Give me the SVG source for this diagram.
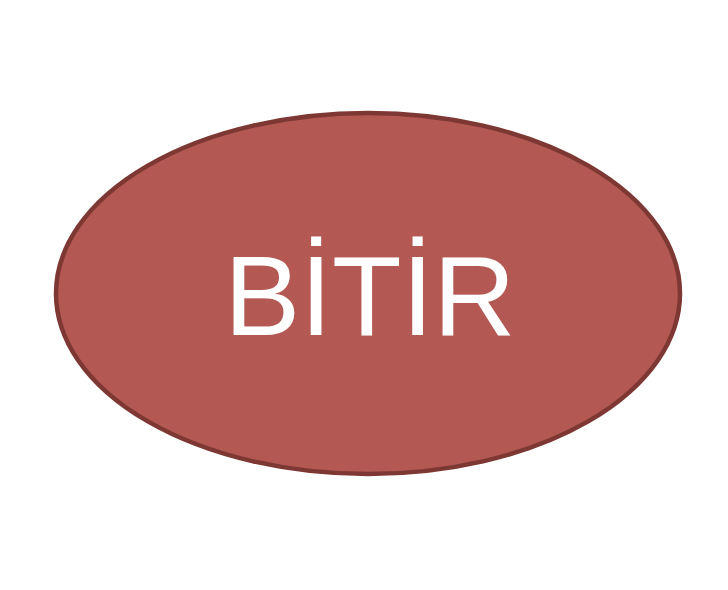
<svg xmlns="http://www.w3.org/2000/svg" width="728" height="590" viewBox="0 0 728 590">
<style>
.node{fill:#B35852;stroke:#7E3833;stroke-width:4.5}
.label{font-family:"Liberation Sans","Arimo",Arial,sans-serif;font-size:114px;fill:#FFFFFF;text-anchor:middle}
</style>
<rect width="728" height="590" fill="#FFFFFF"/>
<g id="bitir">
<ellipse class="node" cx="368" cy="293.5" rx="312" ry="180.5"/>
<text class="label" x="370" y="335">BİTİR</text>
</g>
<g id="connectors"/>
</svg>
